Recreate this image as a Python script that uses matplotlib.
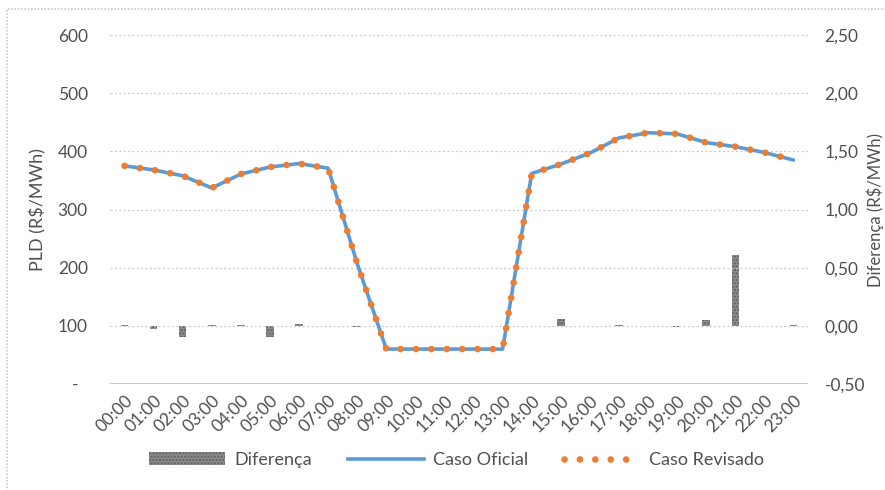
import matplotlib
matplotlib.use("Agg")
import matplotlib.pyplot as plt
from matplotlib.patches import Patch, Rectangle
from matplotlib.lines import Line2D
from matplotlib.ticker import FuncFormatter

plt.rcParams['font.family'] = ['Lato', 'DejaVu Sans']

horas = ["%02d:00" % h for h in range(24)]

# PLD (R$/MWh)
caso_oficial = [375, 368, 358, 337, 361, 373, 379, 371, 207, 60, 60, 60,
                60, 60, 362, 378, 397, 423, 432, 430, 415, 408, 398, 385]
caso_revisado = caso_oficial[:]  # the two cases overlap on the chart

# Diferença (R$/MWh)
diferenca = [0.005, -0.03, -0.10, 0.01, 0.005, -0.10, 0.015, 0.0, -0.01, 0.0,
             0.0, 0.0, 0.0, 0.0, 0.0, 0.055, -0.005, 0.005, 0.0, -0.01,
             0.05, 0.61, 0.0, 0.005]

txt = '#505050'
grid = '#c8c8c8'

fig = plt.figure(figsize=(8.85, 4.9), dpi=100)
ax = fig.add_axes([110/885, 1-384/490, 698/885, (384-35)/490])
ax2 = ax.twinx()

x = list(range(24))

# bars on the secondary axis
ax2.bar(x, diferenca, width=0.26, facecolor='#8a8a8a', edgecolor='#5f5f5f',
        hatch='.....', linewidth=0)
ax2.set_ylim(-0.5, 2.5)
ax2.set_yticks([-0.5, 0, 0.5, 1.0, 1.5, 2.0, 2.5])
ax2.yaxis.set_major_formatter(FuncFormatter(lambda v, p: ("%.2f" % v).replace('.', ',')))

# lines on the primary axis
ax.plot(x, caso_oficial, color='#5b9bd5', lw=2.6, solid_capstyle='round', zorder=3)
ax.plot(x, caso_revisado, color='#ed7d31', lw=4.8, linestyle=(0, (0.01, 2.3)),
        dash_capstyle='round', zorder=4)
ax.set_ylim(0, 600)
ax.set_xlim(-0.5, 23.5)
ax.set_yticks(range(0, 601, 100))
ax.set_yticklabels(['-  '] + [str(v) for v in range(100, 601, 100)])
ax.set_xticks(x)
ax.set_xticklabels(horas, rotation=45, ha='right', rotation_mode='anchor')

for v in range(100, 601, 100):
    ax.axhline(v, color=grid, lw=0.9, linestyle=(0, (1.5, 2)), zorder=0)
ax.axhline(0, color='#bfbfbf', lw=1.2, zorder=0)

ax.set_zorder(ax2.get_zorder() + 1)
ax.patch.set_visible(False)

for a in (ax, ax2):
    for s in a.spines.values():
        s.set_visible(False)
    a.tick_params(length=0, colors=txt, labelsize=12.5)

ax.tick_params(axis='y', pad=16)
ax.tick_params(axis='x', pad=6)
ax2.tick_params(axis='y', pad=12)

ax.set_ylabel('PLD (R$/MWh)', fontsize=13, color=txt, labelpad=8)
ax2.set_ylabel('Diferença (R$/MWh)', fontsize=12, color=txt, labelpad=1)

handles = [Patch(facecolor='#8a8a8a', edgecolor='#5f5f5f', hatch='.....', linewidth=0),
           Line2D([], [], color='#5b9bd5', lw=2.6),
           Line2D([], [], color='#ed7d31', lw=4.8, linestyle=(0, (0.01, 2.3)),
                  dash_capstyle='round')]
fig.legend(handles, ['Diferença', 'Caso Oficial', 'Caso Revisado'],
           loc='center', bbox_to_anchor=(0.516, 0.061), ncol=3, frameon=False,
           fontsize=13, handlelength=4.2, handleheight=0.7, columnspacing=2.0,
           handletextpad=0.5, labelcolor=txt)

# chart area border
fig.patches.append(Rectangle((7/885, -0.2), 1.2, 1.2 - 9/490, transform=fig.transFigure,
                             fill=False, edgecolor='#c8c8c8', lw=1.2,
                             linestyle=(0, (1, 1))))

fig.savefig('out.png', dpi=100)
